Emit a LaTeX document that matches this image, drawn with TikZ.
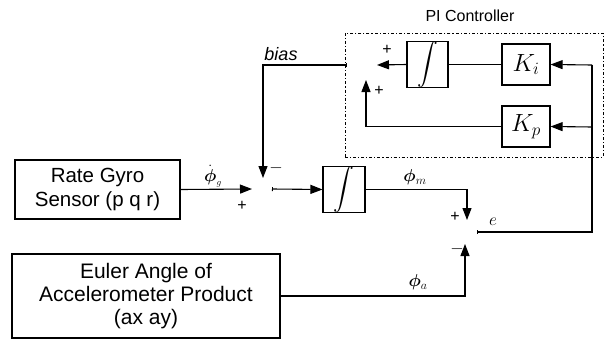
\documentclass[tikz,border=0pt]{standalone}
\usepackage{amsmath}
\usepackage{fontspec}
\setmainfont{Liberation Sans}
\usetikzlibrary{arrows.meta,calc}
\begin{document}
\begin{tikzpicture}[x=1pt,y=-1pt,
  line width=1.1pt,
  blk/.style={draw,line width=1.1pt,minimum width=#1,inner sep=0pt,align=center},
  arr/.style={-{Triangle[length=12pt,width=9pt]}},
  barr/.style={{Bar[width=4pt,line width=0.8pt]}-{Triangle[length=12pt,width=9pt]}},
  sgn/.style={inner sep=0pt,font=\fontsize{16}{16}\selectfont},
  lbl/.style={inner sep=0pt},
  mlbl/.style={inner sep=0pt,font=\fontsize{18}{18}\selectfont}]
\useasboundingbox (0,0) rectangle (606,340);
% blocks
\node[blk=165pt,minimum height=59pt,font=\fontsize{20.5}{24}\selectfont] (gyro) at (97.5,189.5) {Rate Gyro\\Sensor (p q r)};
\node[blk=268pt,minimum height=84pt,font=\fontsize{21}{23}\selectfont] (euler) at (146,296) {Euler Angle of\\Accelerometer Product\\(ax ay)};
\node[blk=41pt,minimum height=41pt,font=\fontsize{22}{22}\selectfont] (int1) at (427.5,64.5) {$\displaystyle\int$};
\node[blk=48pt,minimum height=41pt,font=\fontsize{26}{26}\selectfont] (ki) at (526,64.5) {$K_i$};
\node[blk=48pt,minimum height=41pt,font=\fontsize{26}{26}\selectfont] (kp) at (526,126.5) {$K_p$};
\node[blk=42pt,minimum height=43pt,font=\fontsize{22}{22}\selectfont] (int2) at (344,189.5) {$\displaystyle\int$};
% PI controller frame
\node[draw,dash dot,line width=1pt,minimum width=258pt,minimum height=124pt,inner sep=0pt] (pibox) at (474,95) {};
\node[lbl,font=\fontsize{16}{16}\selectfont] (pilbl) at (470,16) {PI Controller};
% junction points
\coordinate (s1w) at (252,189);
\coordinate (s1n) at (263,178);
\coordinate (s1e) at (272,189);
\coordinate (s2w) at (347,65);
\coordinate (s2e) at (377,65);
\coordinate (s2s) at (366,80);
\coordinate (s3n) at (467,220);
\coordinate (s3s) at (465,244);
\coordinate (s3e) at (477,232);
\coordinate (rtop) at (592,65);
\coordinate (rkp) at (592,127);
\coordinate (rbot) at (592,232);
% connectors
\draw[arr] (gyro.east) -- (s1w);
\draw[barr] (s2w) -| (s1n);
\draw (ki.west) -- (int1.east);
\draw[arr] (int1.west) -- (s2e);
\draw[arr] (kp.west) -| (s2s);
\draw[{Bar[width=4pt,line width=0.8pt]}-] (s3e) -- (rbot) -- (rtop);
\draw[arr] (rtop) -- (ki.east);
\draw[arr] (rkp) -- (kp.east);
\draw[barr] (s1e) -- (int2.west);
\draw[arr] (int2.east) -| (s3n);
\draw[arr] (euler.east |- 0,296) -| (s3s);
% labels
\node[lbl,font=\fontsize{18}{18}\selectfont\rmfamily\itshape] (bias) at (281,54) {bias};
\node[mlbl] (phig) at (213,176) {$\dot{\boldsymbol{\phi}}_{\scriptscriptstyle g}$};
\node[mlbl] (phim) at (415,177) {$\boldsymbol{\phi}_m$};
\node[mlbl] (phia) at (418,282) {$\boldsymbol{\phi}_a$};
\node[mlbl] (elbl) at (493,222) {$e$};
\node[sgn] (p1) at (242,206) {+};
\node[sgn] (m1) at (276,168) {$-$};
\node[sgn] (p2) at (387,50) {+};
\node[sgn] (p3) at (379,91) {+};
\node[sgn] (p4) at (455,217) {+};
\node[sgn] (m3) at (457,249) {$-$};
\end{tikzpicture}
\end{document}
